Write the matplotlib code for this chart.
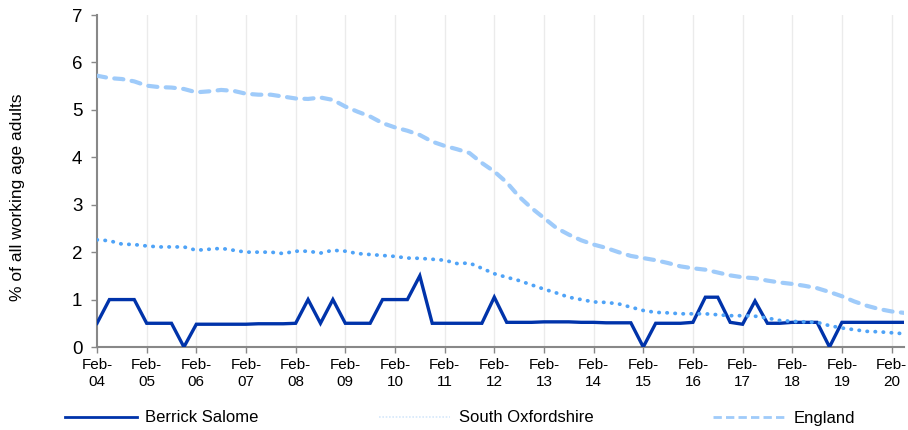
import matplotlib
matplotlib.use("Agg")
import matplotlib.pyplot as plt
from matplotlib.lines import Line2D
import numpy as np

plt.rcParams['font.family'] = ['Liberation Sans', 'DejaVu Sans']

# quarterly series, Feb-04 .. May-20
berrick = [0.5, 1.0, 1.0, 1.0, 0.5, 0.5, 0.5, 0.0, 0.48, 0.48,
           0.48, 0.48, 0.48, 0.49, 0.49, 0.49, 0.5, 1.0, 0.5, 1.0,
           0.5, 0.5, 0.5, 1.0, 1.0, 1.0, 1.5, 0.5, 0.5, 0.5,
           0.5, 0.5, 1.05, 0.52, 0.52, 0.52, 0.53, 0.53, 0.53, 0.52,
           0.52, 0.51, 0.51, 0.51, 0.0, 0.5, 0.5, 0.5, 0.52, 1.05,
           1.05, 0.52, 0.48, 0.97, 0.5, 0.5, 0.52, 0.52, 0.52, 0.0,
           0.52, 0.52, 0.52, 0.52, 0.52, 0.52]

south_ox = [2.26, 2.24, 2.17, 2.16, 2.13, 2.11, 2.11, 2.11, 2.04, 2.06,
            2.08, 2.04, 2.00, 2.00, 2.00, 1.97, 2.02, 2.02, 1.98, 2.04,
            2.02, 1.97, 1.95, 1.93, 1.91, 1.875, 1.87, 1.85, 1.83, 1.76,
            1.77, 1.66, 1.545, 1.47, 1.40, 1.31, 1.22, 1.14, 1.05, 1.00,
            0.95, 0.94, 0.91, 0.84, 0.77, 0.73, 0.72, 0.70, 0.70, 0.70,
            0.68, 0.66, 0.66, 0.65, 0.61, 0.56, 0.54, 0.53, 0.52, 0.45,
            0.40, 0.365, 0.33, 0.32, 0.30, 0.28]

england = [5.72, 5.67, 5.65, 5.60, 5.51, 5.48, 5.47, 5.44, 5.37, 5.39,
           5.42, 5.40, 5.34, 5.32, 5.32, 5.28, 5.24, 5.23, 5.26, 5.21,
           5.07, 4.96, 4.86, 4.72, 4.63, 4.56, 4.47, 4.33, 4.24, 4.17,
           4.09, 3.88, 3.70, 3.47, 3.17, 2.93, 2.72, 2.51, 2.37, 2.25,
           2.16, 2.09, 2.00, 1.92, 1.875, 1.83, 1.77, 1.70, 1.66, 1.63,
           1.57, 1.51, 1.47, 1.45, 1.40, 1.36, 1.33, 1.29, 1.24, 1.16,
           1.07, 0.96, 0.87, 0.80, 0.75, 0.72]

tick_labels = ["Feb-\n04", "Feb-\n05", "Feb-\n06", "Feb-\n07", "Feb-\n08",
               "Feb-\n09", "Feb-\n10", "Feb-\n11", "Feb-\n12", "Feb-\n13",
               "Feb-\n14", "Feb-\n15", "Feb-\n16", "Feb-\n17", "Feb-\n18",
               "Feb-\n19", "Feb-\n20"]

c_berrick = "#0033aa"
c_south = "#4fa3f7"
c_england = "#9fcbfa"

x = np.arange(len(berrick))

fig = plt.figure(figsize=(9.08, 4.3), dpi=100)
ax = fig.add_axes([97 / 908, 83 / 430, 807 / 908, 332 / 430])

ax.plot(x, berrick, color=c_berrick, lw=2.4, solid_joinstyle="miter", zorder=3)
ax.plot(x, south_ox, color=c_south, lw=2.7, linestyle=(0, (0.1, 2.05)),
        dash_capstyle="round", zorder=4)
ax.plot(x, england, color=c_england, lw=3, linestyle=(0, (2.2, 2.0)),
        dash_capstyle="round", zorder=5)

ax.set_xlim(0, len(berrick) - 1)
ax.set_ylim(0, 7)
ax.set_yticks(range(0, 8))
ax.set_xticks(np.arange(0, len(berrick), 4))
ax.set_xticklabels(tick_labels, fontsize=11, linespacing=1.25)
ax.tick_params(axis="y", labelsize=13.5, length=4.5, width=1, color="#888888", pad=6)
ax.tick_params(axis="x", length=4, width=1, color="#888888", pad=4)

for xv in np.arange(4, len(berrick), 4):
    ax.axvline(xv, color="#ebebeb", lw=1, zorder=0)

for s in ["top", "right"]:
    ax.spines[s].set_visible(False)
for s in ["left", "bottom"]:
    ax.spines[s].set_color("#888888")
    ax.spines[s].set_linewidth(1.5)

fig.text(18 / 908, 1 - 197 / 430, "% of all working age adults", rotation=90,
         ha="center", va="center", fontsize=12.5)

handles = [
    Line2D([], [], color=c_berrick, lw=2),
    Line2D([], [], color="#d6e8fb", lw=1.2, linestyle=(0, (1, 1))),
    Line2D([], [], color=c_england, lw=2, linestyle=(0, (3, 1.5))),
]
fig.legend(handles, ["Berrick Salome", "South Oxfordshire", "England"],
           loc="center", bbox_to_anchor=(460 / 908, 1 - 418 / 430), ncol=3,
           frameon=False, fontsize=12, handlelength=4.3, handletextpad=0.5,
           columnspacing=7.2)

fig.savefig("out.png", dpi=100)
